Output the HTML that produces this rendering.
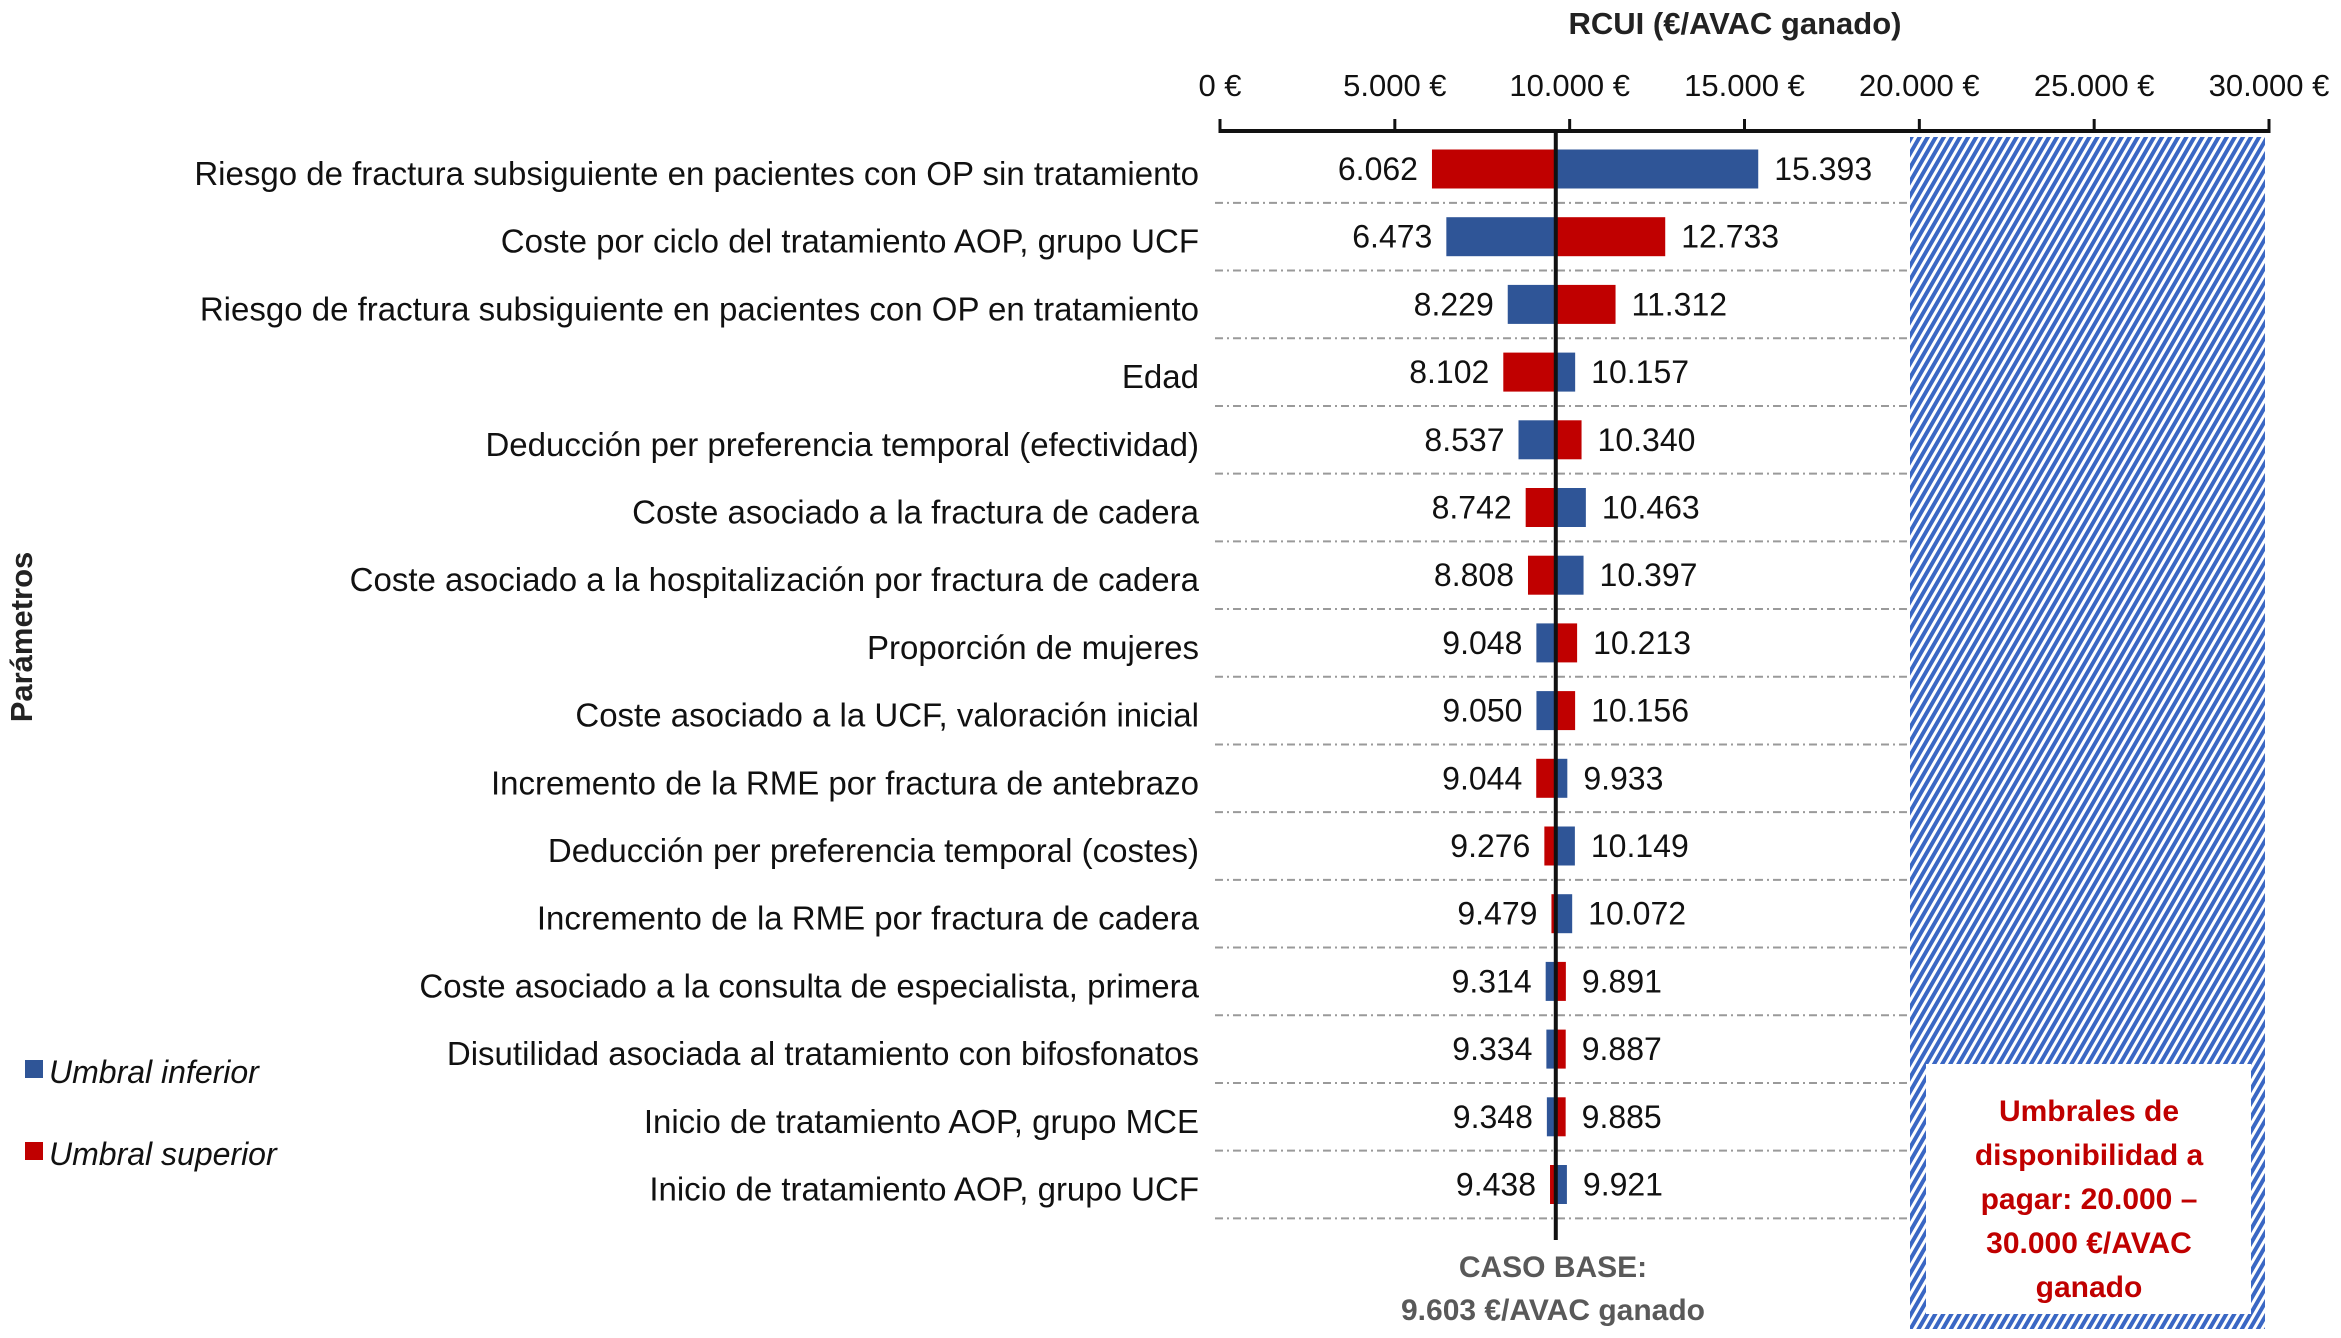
<!DOCTYPE html>
<html><head><meta charset="utf-8">
<style>
html,body{margin:0;padding:0;background:#fff;}
svg{display:block;font-family:"Liberation Sans",sans-serif;}
</style></head>
<body>
<svg id="chart" width="2341" height="1338" viewBox="0 0 2341 1338">
<defs>
<pattern id="hatch" width="7" height="7" patternUnits="userSpaceOnUse" patternTransform="rotate(30)">
<rect width="7" height="7" fill="#fff"/>
<rect width="4" height="7" fill="#3a67c4"/>
</pattern>
</defs>
<g id="grid"></g>
<rect x="1910" y="137" width="355" height="1192" fill="url(#hatch)"/>
<rect x="1926" y="1064" width="325" height="250" fill="#fff"/>
<text x="2089" y="1121" text-anchor="middle" font-size="30" font-weight="bold" fill="#C00000">Umbrales de</text>
<text x="2089" y="1165" text-anchor="middle" font-size="30" font-weight="bold" fill="#C00000">disponibilidad  a</text>
<text x="2089" y="1209" text-anchor="middle" font-size="30" font-weight="bold" fill="#C00000">pagar: 20.000 –</text>
<text x="2089" y="1253" text-anchor="middle" font-size="30" font-weight="bold" fill="#C00000">30.000 €/AVAC</text>
<text x="2089" y="1297" text-anchor="middle" font-size="30" font-weight="bold" fill="#C00000">ganado</text>
<g id="bars"></g>
<g id="axis"></g>
<text x="1735" y="34" text-anchor="middle" font-size="31" font-weight="bold" fill="#222">RCUI (€/AVAC ganado)</text>
<text transform="translate(32,637) rotate(-90)" text-anchor="middle" font-size="31" font-weight="bold" fill="#222">Parámetros</text>
<rect x="25" y="1060" width="18" height="18" fill="#2F5597"/>
<text x="49" y="1083" font-size="32" font-style="italic" fill="#111">Umbral inferior</text>
<rect x="25" y="1142" width="18" height="18" fill="#C00000"/>
<text x="49" y="1165" font-size="32" font-style="italic" fill="#111">Umbral superior</text>
<text x="1553" y="1277" text-anchor="middle" font-size="30" font-weight="bold" fill="#595959">CASO BASE:</text>
<text x="1553" y="1320" text-anchor="middle" font-size="30" font-weight="bold" fill="#595959">9.603 €/AVAC ganado</text>
</svg>
<script>
const params = ["Riesgo de fractura subsiguiente en pacientes con OP sin tratamiento","Coste por ciclo del tratamiento AOP, grupo UCF","Riesgo de fractura subsiguiente en pacientes con OP en tratamiento","Edad","Deducción per preferencia temporal (efectividad)","Coste asociado a la fractura de cadera","Coste asociado a la hospitalización por fractura de cadera","Proporción de mujeres","Coste asociado a la UCF, valoración inicial","Incremento de la RME por fractura de antebrazo","Deducción per preferencia temporal (costes)","Incremento de la RME por fractura de cadera","Coste asociado a la consulta de especialista, primera","Disutilidad asociada al tratamiento con bifosfonatos","Inicio de tratamiento AOP, grupo MCE","Inicio de tratamiento AOP, grupo UCF"];
const lowValues = [6062,6473,8229,8102,8537,8742,8808,9048,9050,9044,9276,9479,9314,9334,9348,9438];
const highValues = [15393,12733,11312,10157,10340,10463,10397,10213,10156,9933,10149,10072,9891,9887,9885,9921];
const lowIsInferior = [false,true,true,false,true,false,false,true,true,false,false,false,true,true,true,false];
const baseCase = 9603;
const ticks = [0,5000,10000,15000,20000,25000,30000];
const tickLabels = ["0 €","5.000 €","10.000 €","15.000 €","20.000 €","25.000 €","30.000 €"];

const NS="http://www.w3.org/2000/svg";
const X0=1220, X1=2269, XMAX=30000;
const x = v => X0 + v/XMAX*(X1-X0);
const ROW0=169, ROWH=67.7, BARH=39;
const y = i => ROW0 + i*ROWH;
const BLUE="#2F5597", RED="#C00000";
function mk(tag, attrs, parent){const e=document.createElementNS(NS,tag);for(const k in attrs)e.setAttribute(k,attrs[k]);parent.appendChild(e);return e;}
const fmt = v => v.toString().replace(/\B(?=(\d{3})+(?!\d))/g,".");
const grid=document.getElementById('grid'), bars=document.getElementById('bars'), axis=document.getElementById('axis');

params.forEach((p,i)=>{
  const cy=y(i);
  const gl=mk('line',{x1:1215,x2:1910,y1:cy+ROWH/2,y2:cy+ROWH/2,stroke:"#9a9a9a","stroke-width":2,"stroke-dasharray":"8 4 2 4"},grid);
  
  
  const lab=mk('text',{x:1199,y:cy+16,"text-anchor":"end","font-size":33,fill:"#111"},bars);
  lab.textContent=p;
  
  
  const lo=lowValues[i], hi=highValues[i];
  const lb=mk('rect',{x:x(lo),y:cy-BARH/2,width:Math.max(0,x(baseCase)-x(lo)),height:BARH,fill:lowIsInferior[i]?BLUE:RED},bars);
  
  
  const hb=mk('rect',{x:x(baseCase),y:cy-BARH/2,width:Math.max(0,x(hi)-x(baseCase)),height:BARH,fill:lowIsInferior[i]?RED:BLUE},bars);
  
  
  const lt=mk('text',{x:x(lo)-14,y:cy+11,"text-anchor":"end","font-size":32,fill:"#111"},bars);
  lt.textContent=fmt(lo);
  
  
  const ht=mk('text',{x:x(hi)+16,y:cy+11,"font-size":32,fill:"#111"},bars);
  ht.textContent=fmt(hi);
  
  
});
const bl=mk('line',{x1:x(baseCase),x2:x(baseCase),y1:131,y2:1240,stroke:"#111","stroke-width":4},bars);


const al=mk('line',{x1:X0,x2:X1,y1:131,y2:131,stroke:"#111","stroke-width":4},axis);


ticks.forEach((t,i)=>{
  const tk=mk('line',{x1:x(t),x2:x(t),y1:119,y2:133,stroke:"#111","stroke-width":3},axis);
  
  
  const tl=mk('text',{x:x(t),y:96,"text-anchor":"middle","font-size":31,fill:"#111"},axis);
  tl.textContent=tickLabels[i];
  
  
});
</script>
</body></html>
